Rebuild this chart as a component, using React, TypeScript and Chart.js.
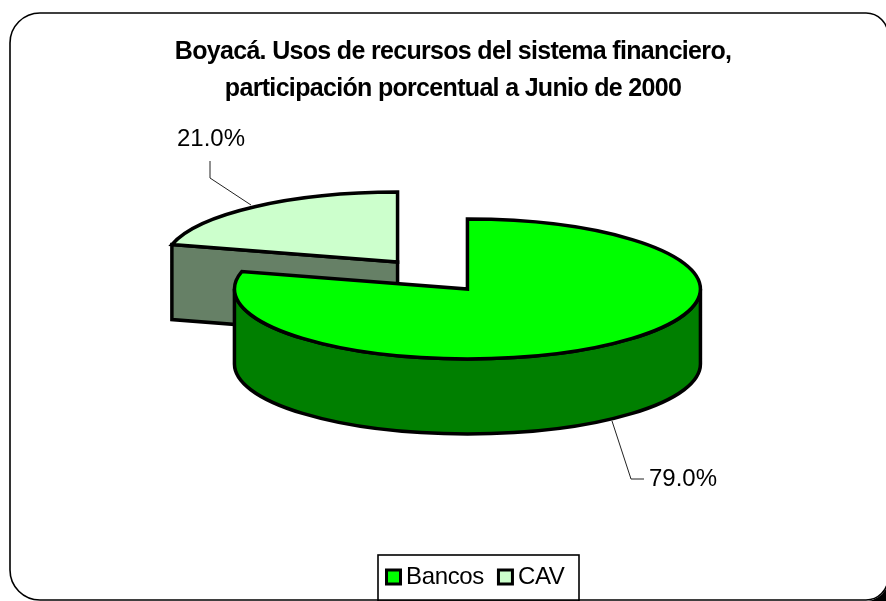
import React, { useEffect, useRef } from "react";
import { Chart, registerables } from "chart.js";

Chart.register(...registerables);

const categories = ["Bancos", "CAV"];
const shares = [79, 21];
const topColors = ["#00ff00", "#ccffcc"];
const wallColors = ["#007f00", "#668066"];
const titleLines = [
  "Boyacá. Usos de recursos del sistema financiero,",
  "participación porcentual a Junio de 2000",
];

const FONT = "'Liberation Sans', Arial, sans-serif";
const CENTER = { x: 432.5, y: 275.5 };
const RADIUS = 233;
const SQUASH = 0.3;
const EXPLODE = 57;
const DEPTH = 75;
const STROKE = 3.5;
const LETTER_SPACING = "-0.35px";
const TITLE_SPACING = "-0.68px";

// label leader lines: [text anchor, polyline]
const leaders = [
  { text: [649, 479], line: [[612, 421], [631, 479], [644, 479]] },
  { text: [177, 139], line: [[210, 161], [210, 178], [251, 205]] },
];

const pieShapePlugin = {
  id: "pieShape",
  afterLayout(chart: any) {
    const a = chart.chartArea;
    a.left = 0;
    a.right = CENTER.x * 2;
    a.width = CENTER.x * 2;
    a.top = 0;
    a.bottom = CENTER.y * 2;
    a.height = CENTER.y * 2;
    const t = chart.titleBlock;
    t.left = 0;
    t.right = 906;
    t.top = 33;
    t.bottom = 111;
    if (!t.__spaced) {
      const draw = t.draw.bind(t);
      t.draw = () => {
        const c = chart.ctx as any;
        c.letterSpacing = TITLE_SPACING;
        draw();
        c.letterSpacing = LETTER_SPACING;
      };
      t.__spaced = true;
    }
    const l = chart.legend;
    l.left = 372;
    l.right = 886;
    l.top = 544;
    l.bottom = 600;
  },
  afterDatasetsUpdate(chart: any) {
    chart.getDatasetMeta(0).data.forEach((arc: any) => {
      const mid = (arc.startAngle + arc.endAngle) / 2;
      arc.x = CENTER.x + Math.cos(mid) * EXPLODE;
      arc.y = CENTER.y + Math.sin(mid) * EXPLODE;
    });
  },
  beforeDraw(chart: any) {
    const { ctx } = chart;
    (ctx as any).letterSpacing = LETTER_SPACING;
    ctx.save();
    ctx.strokeStyle = "#000";
    ctx.lineWidth = 1.6;
    ctx.beginPath();
    (ctx as any).roundRect(10, 13, 878, 587, [30, 22, 22, 30]);
    ctx.stroke();
    // dark corner at the lower right of the frame
    ctx.fillStyle = "#000";
    ctx.beginPath();
    ctx.moveTo(868, 601);
    ctx.quadraticCurveTo(880, 599, 886, 589);
    ctx.lineTo(886, 601);
    ctx.closePath();
    ctx.fill();
    ctx.strokeRect(378, 555, 201, 46);
    ctx.restore();
  },
  beforeDatasetsDraw(chart: any) {
    const { ctx } = chart;
    const arcs = chart.getDatasetMeta(0).data;
    const sy = (y: number) => CENTER.y + (y - CENTER.y) * SQUASH;
    const apply = () => {
      ctx.translate(0, CENTER.y);
      ctx.scale(1, SQUASH);
      ctx.translate(0, -CENTER.y);
    };
    ctx.save();
    ctx.lineWidth = STROKE;
    ctx.lineJoin = "miter";
    ctx.strokeStyle = "#000";

    // back slice: the visible cut face, drawn before the front slice
    const back = arcs[1];
    const bx = back.x + Math.cos(back.startAngle) * RADIUS;
    const by = sy(back.y + Math.sin(back.startAngle) * RADIUS);
    const cy = sy(back.y);
    ctx.beginPath();
    ctx.moveTo(back.x, cy);
    ctx.lineTo(bx, by);
    ctx.lineTo(bx, by + DEPTH);
    ctx.lineTo(back.x, cy + DEPTH);
    ctx.closePath();
    ctx.fillStyle = wallColors[1];
    ctx.fill();
    ctx.stroke();

    // front slice: outer wall over the lower half of the ellipse
    const front = arcs[0];
    ctx.beginPath();
    ctx.save();
    apply();
    ctx.arc(front.x, front.y, RADIUS, 0, Math.PI);
    ctx.restore();
    ctx.lineTo(front.x - RADIUS, sy(front.y) + DEPTH);
    ctx.save();
    ctx.translate(0, DEPTH);
    apply();
    ctx.arc(front.x, front.y, RADIUS, Math.PI, 0, true);
    ctx.restore();
    ctx.closePath();
    ctx.fillStyle = wallColors[0];
    ctx.fill();
    ctx.stroke();
    ctx.restore();

    // arcs are drawn by the library through the squashed transform
    ctx.save();
    apply();
  },
  afterDatasetsDraw(chart: any) {
    const { ctx } = chart;
    ctx.restore();
    const arcs = chart.getDatasetMeta(0).data;
    ctx.save();
    ctx.lineWidth = STROKE;
    ctx.strokeStyle = "#000";
    arcs.forEach((arc: any) => {
      ctx.beginPath();
      ctx.save();
      ctx.translate(0, CENTER.y);
      ctx.scale(1, SQUASH);
      ctx.translate(0, -CENTER.y);
      ctx.moveTo(arc.x, arc.y);
      ctx.arc(arc.x, arc.y, RADIUS, arc.startAngle, arc.endAngle);
      ctx.closePath();
      ctx.restore();
      ctx.stroke();
    });

    const total = shares.reduce((s, v) => s + v, 0);
    ctx.lineWidth = 1;
    ctx.strokeStyle = "#222";
    ctx.fillStyle = "#000";
    ctx.font = `24px ${FONT}`;
    ctx.textBaseline = "middle";
    (ctx as any).letterSpacing = "0px";
    shares.forEach((v, i) => {
      const l = leaders[i];
      ctx.beginPath();
      l.line.forEach((p, j) => (j ? ctx.lineTo(p[0], p[1]) : ctx.moveTo(p[0], p[1])));
      ctx.stroke();
      ctx.fillText(`${((v / total) * 100).toFixed(1)}%`, l.text[0], l.text[1]);
    });
    ctx.restore();
  },
};

export default function App() {
  const ref = useRef<HTMLCanvasElement>(null);
  useEffect(() => {
    document.body.style.margin = "0";
    const chart = new Chart(ref.current as HTMLCanvasElement, {
      type: "pie",
      data: {
        labels: categories,
        datasets: [
          {
            data: shares,
            backgroundColor: topColors,
            borderWidth: 0,
            clip: false,
          } as any,
        ],
      },
      options: {
        responsive: false,
        animation: false,
        events: [],
        radius: RADIUS,
        plugins: {
          tooltip: { enabled: false },
          title: {
            display: true,
            text: titleLines,
            color: "#000",
            font: { family: FONT, size: 25, weight: "bold", lineHeight: 1.49 },
            padding: 0,
          },
          legend: {
            position: "bottom",
            align: "start",
            labels: {
              color: "#000",
              font: { family: FONT, size: 24 },
              usePointStyle: true,
              pointStyle: "rect",
              boxWidth: 1,
              boxHeight: 14,
              padding: 21,
              generateLabels: (c: any) =>
                (Chart as any).overrides.doughnut.plugins.legend.labels
                  .generateLabels(c)
                  .map((l: any) => ({ ...l, lineWidth: 3, strokeStyle: "#000" })),
            },
          },
        },
      } as any,
      plugins: [pieShapePlugin as any],
    });
    return () => chart.destroy();
  }, []);
  return (
    <canvas
      ref={ref}
      width={886}
      height={601}
      style={{ display: "block", position: "fixed", left: 0, top: 0, background: "#fff" }}
    />
  );
}
